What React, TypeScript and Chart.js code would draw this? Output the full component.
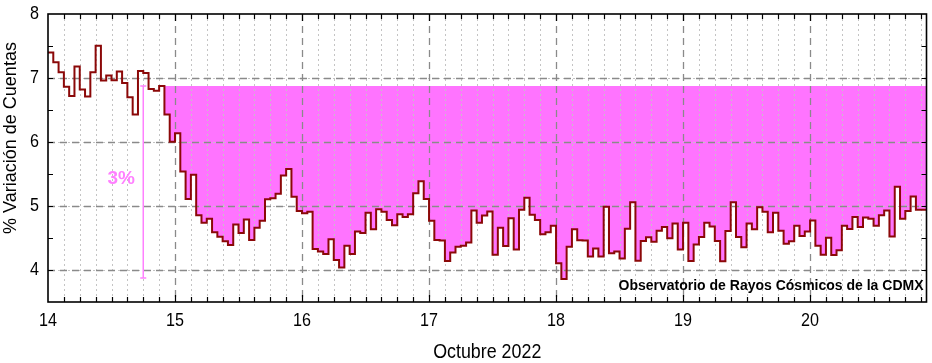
import React, { useEffect, useRef } from 'react';
import { Chart, registerables } from 'chart.js';

Chart.register(...registerables);

// ---- data (hourly % variation of counts, October 2022) ----
const START_DAY = 14;
const HOURS_PER_DAY = 24;
const DAY_14 = [7.40, 7.245, 7.09, 6.865, 6.72, 7.18, 6.82, 6.71, 7.09, 7.505, 6.96, 7.04, 6.965, 7.10, 6.92, 6.70, 6.43, 7.11, 7.08, 6.83, 6.80, 6.875, 6.43, 6.005];
const DAY_15 = [6.135, 5.54, 5.11, 5.49, 4.855, 4.74, 4.80, 4.59, 4.52, 4.45, 4.39, 4.71, 4.58, 4.79, 4.47, 4.66, 4.77, 5.105, 5.12, 5.19, 5.475, 5.58, 5.145, 4.92];
const DAY_16 = [4.885, 4.91, 4.33, 4.29, 4.25, 4.48, 4.155, 4.04, 4.38, 4.25, 4.60, 4.58, 4.895, 4.635, 4.95, 4.91, 4.78, 4.70, 4.87, 4.83, 4.87, 5.20, 5.385, 5.11];
const DAY_17 = [4.77, 4.47, 4.46, 4.14, 4.275, 4.365, 4.38, 4.43, 4.93, 4.74, 4.85, 4.915, 4.24, 4.66, 4.375, 4.81, 4.32, 4.94, 5.13, 4.865, 4.78, 4.56, 4.59, 4.69];
const DAY_18 = [4.105, 3.86, 4.365, 4.635, 4.465, 4.46, 4.21, 4.335, 4.21, 4.99, 4.26, 4.29, 4.18, 4.645, 5.06, 4.145, 4.455, 4.51, 4.44, 4.615, 4.67, 4.495, 4.725, 4.32];
const DAY_19 = [4.74, 4.14, 4.40, 4.515, 4.74, 4.68, 4.455, 4.135, 4.61, 5.06, 4.515, 4.355, 4.725, 4.635, 4.98, 4.91, 4.59, 4.895, 4.615, 4.41, 4.45, 4.69, 4.53, 4.60];
const DAY_20 = [4.775, 4.38, 4.24, 4.505, 4.235, 4.31, 4.69, 4.64, 4.83, 4.67, 4.82, 4.80, 4.69, 4.855, 4.93, 4.525, 5.30, 4.80, 4.92, 5.15, 4.94, 4.94];

const BASE_LEVEL = 6.875;      // pre-decrease level (fill reference)
const FILL_START_INDEX = 22;   // hour index where the decrease starts
const DROP_MARK_X = 14.75;     // position of the 3% bar
const DROP_SIZE = 3;
const DROP_LABEL = '3%';

const X_TICKS = [14, 15, 16, 17, 18, 19, 20];
const Y_TICKS = [4, 5, 6, 7, 8];
const Y_MIN = 3.5;
const Y_MAX = 8;
const X_TITLE = 'Octubre 2022';
const Y_TITLE = '% Variación de Cuentas';
const WATERMARK = 'Observatorio de Rayos Cósmicos de la CDMX';

const VALUES = [...DAY_14, ...DAY_15, ...DAY_16, ...DAY_17, ...DAY_18, ...DAY_19, ...DAY_20];
const X_MAX = START_DAY + VALUES.length / HOURS_PER_DAY;

const POINTS = VALUES.map((v, i) => ({ x: START_DAY + i / HOURS_PER_DAY, y: v }));
POINTS.push({ x: X_MAX, y: VALUES[VALUES.length - 1] });
const FILL_POINTS = POINTS.slice(FILL_START_INDEX);

const LINE_COLOR = '#8b0808';
const FILL_COLOR = '#ff74ff';
const PINK = '#ff80ff';
const NARROW = 0.85;
const SANS = '"Liberation Sans", Arial, sans-serif';

function narrowText(ctx: any, text: string, x: number, y: number, align: string, baseline: string) {
  ctx.save();
  ctx.translate(x, y);
  ctx.scale(NARROW, 1);
  ctx.textAlign = align;
  ctx.textBaseline = baseline;
  ctx.fillText(text, 0, 0);
  ctx.restore();
}

const decorPlugin = {
  id: 'decor',
  beforeDatasetDraw(chart: any, args: any) {
    if (args.index !== 1) return;
    const { ctx, chartArea: a, scales } = chart;
    const xs = scales.x, ys = scales.y;
    ctx.save();
    ctx.beginPath();
    ctx.rect(a.left, a.top, a.right - a.left, a.bottom - a.top);
    ctx.clip();
    // minor dotted grid
    ctx.strokeStyle = '#c4c4c4';
    ctx.lineWidth = 1;
    ctx.setLineDash([2, 3]);
    ctx.beginPath();
    for (let k = 1; START_DAY + k / 8 < X_MAX; k++) {
      if (k % 8 === 0) continue;
      const px = Math.round(xs.getPixelForValue(START_DAY + k / 8)) + 0.5;
      ctx.moveTo(px, a.top); ctx.lineTo(px, a.bottom);
    }
    for (let v = Y_MIN + 0.5; v < Y_MAX; v += 1) {
      const py = Math.round(ys.getPixelForValue(v)) + 0.5;
      ctx.moveTo(a.left, py); ctx.lineTo(a.right, py);
    }
    ctx.stroke();
    // major dashed grid
    ctx.strokeStyle = '#8a8a8a';
    ctx.lineWidth = 1.3;
    ctx.setLineDash([7, 5]);
    ctx.beginPath();
    for (const t of xs.ticks.map((k: any) => k.value)) {
      if (t === START_DAY) continue;
      const px = Math.round(xs.getPixelForValue(t)) + 0.5;
      ctx.moveTo(px, a.top); ctx.lineTo(px, a.bottom);
    }
    for (const t of ys.ticks.map((k: any) => k.value)) {
      if (t === Y_MAX) continue;
      const py = Math.round(ys.getPixelForValue(t)) + 0.5;
      ctx.moveTo(a.left, py); ctx.lineTo(a.right, py);
    }
    ctx.stroke();
    ctx.restore();
  },
  afterDraw(chart: any) {
    const { ctx, chartArea: a, scales } = chart;
    const xs = scales.x, ys = scales.y;
    ctx.save();
    // inward ticks
    ctx.strokeStyle = '#000';
    ctx.lineWidth = 1.2;
    ctx.setLineDash([]);
    ctx.beginPath();
    for (let k = 1; START_DAY + k / 8 < X_MAX; k++) {
      const px = Math.round(xs.getPixelForValue(START_DAY + k / 8)) + 0.5;
      const len = k % 8 === 0 ? 7 : 5;
      ctx.moveTo(px, a.bottom); ctx.lineTo(px, a.bottom - len);
      ctx.moveTo(px, a.top); ctx.lineTo(px, a.top + len);
    }
    for (let v = Y_MIN + 0.5; v < Y_MAX; v += 0.5) {
      const py = Math.round(ys.getPixelForValue(v)) + 0.5;
      ctx.moveTo(a.left, py); ctx.lineTo(a.left + 5, py);
      ctx.moveTo(a.right, py); ctx.lineTo(a.right - 5, py);
    }
    ctx.stroke();
    // frame
    ctx.lineWidth = 1.6;
    ctx.strokeRect(a.left, a.top, a.right - a.left, a.bottom - a.top);

    // tick labels (condensed, from the scales' ticks)
    ctx.fillStyle = '#000';
    ctx.font = `19px ${SANS}`;
    for (const t of xs.ticks) {
      narrowText(ctx, String(t.value), xs.getPixelForValue(t.value), a.bottom + 9, 'center', 'top');
    }
    for (const t of ys.ticks) {
      narrowText(ctx, String(t.value), a.left - 9, ys.getPixelForValue(t.value), 'right', 'middle');
    }

    // axis titles
    ctx.font = `21px ${SANS}`;
    narrowText(ctx, X_TITLE, (a.left + a.right) / 2, 352, 'center', 'middle');

    ctx.save();
    ctx.translate(11, 138);
    ctx.rotate(-Math.PI / 2);
    ctx.textAlign = 'center';
    ctx.textBaseline = 'middle';
    ctx.font = `18px ${SANS}`;
    ctx.fillText(Y_TITLE, 0, 0);
    ctx.restore();

    ctx.textAlign = 'right';
    ctx.textBaseline = 'alphabetic';
    ctx.font = `bold 14px ${SANS}`;
    ctx.fillText(WATERMARK, a.right - 3, a.bottom - 12);

    ctx.fillStyle = PINK;
    ctx.textAlign = 'center';
    ctx.textBaseline = 'middle';
    ctx.font = `bold 19px ${SANS}`;
    ctx.fillText(DROP_LABEL, xs.getPixelForValue(DROP_MARK_X) - 22, ys.getPixelForValue(BASE_LEVEL - DROP_SIZE / 2) - 3);
    ctx.restore();
  },
};

export default function App() {
  const ref = useRef<HTMLCanvasElement>(null);
  useEffect(() => {
    document.body.style.margin = '0';
    const chart = new Chart(ref.current as HTMLCanvasElement, {
      type: 'line',
      data: {
        datasets: [
          {
            data: [
              { x: DROP_MARK_X, y: BASE_LEVEL },
              { x: DROP_MARK_X, y: BASE_LEVEL - DROP_SIZE },
            ],
            borderColor: PINK,
            borderWidth: 1.5,
            pointStyle: 'line',
            pointRadius: 3,
            pointBorderColor: PINK,
            pointBorderWidth: 1.5,
            fill: false,
          },
          {
            data: POINTS,
            stepped: true,
            borderColor: LINE_COLOR,
            borderWidth: 2,
            pointRadius: 0,
            fill: false,
          },
          {
            data: FILL_POINTS,
            stepped: true,
            borderColor: 'rgba(0,0,0,0)',
            borderWidth: 0,
            backgroundColor: FILL_COLOR,
            pointRadius: 0,
            fill: { value: BASE_LEVEL },
          },
        ] as any,
      },
      options: {
        animation: false,
        responsive: true,
        maintainAspectRatio: false,
        layout: { padding: { top: 14, right: 4, left: 0, bottom: 0 } },
        plugins: { legend: { display: false }, tooltip: { enabled: false } },
        scales: {
          x: {
            type: 'linear',
            min: START_DAY,
            max: X_MAX,
            grid: { display: false, drawTicks: false },
            border: { display: false },
            afterBuildTicks: (s: any) => { s.ticks = X_TICKS.map((v) => ({ value: v })); },
            afterFit: (s: any) => { s.height = 61; },
            ticks: { display: false },
          },
          y: {
            type: 'linear',
            min: Y_MIN,
            max: Y_MAX,
            grid: { display: false, drawTicks: false },
            border: { display: false },
            afterBuildTicks: (s: any) => { s.ticks = Y_TICKS.map((v) => ({ value: v })); },
            afterFit: (s: any) => { s.width = 48; },
            ticks: { display: false },
          },
        },
      } as any,
      plugins: [decorPlugin],
    });
    return () => chart.destroy();
  }, []);
  return (
    <div style={{ width: 932, height: 363, position: 'relative' }}>
      <canvas ref={ref} />
    </div>
  );
}
